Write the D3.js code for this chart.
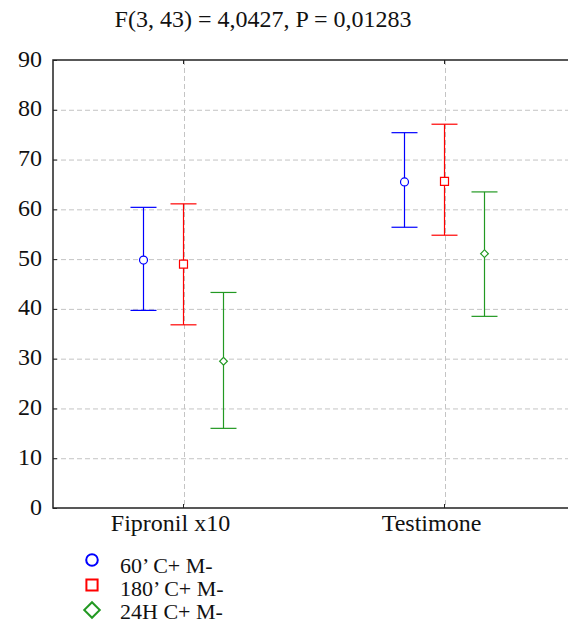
<!DOCTYPE html>
<html><head><meta charset="utf-8">
<script src="https://cdn.jsdelivr.net/npm/d3@7"></script>
<style>
html,body{margin:0;padding:0;background:#fff;}
svg{display:block;font-family:"Liberation Serif","Times New Roman",serif;}
svg text{font-family:"Liberation Serif","Times New Roman",serif !important;}
</style></head>
<body>
<svg id="chart" width="568" height="628"></svg>
<script>
const title = "F(3, 43) = 4,0427, P = 0,01283";
const categories = ["Fipronil x10", "Testimone"];
const seriesNames = ["60’ C+ M-", "180’ C+ M-", "24H C+ M-"];
const seriesColors = ["#0000ff", "#ff0000", "#229922"];
const seriesShapes = ["circle", "square", "diamond"];
const mean60 = [49.8, 65.5];
const lower60 = [39.7, 56.4];
const upper60 = [60.4, 75.4];
const mean180 = [49.0, 65.6];
const lower180 = [36.8, 54.8];
const upper180 = [61.1, 77.1];
const mean24 = [29.5, 51.1];
const lower24 = [16.0, 38.5];
const upper24 = [43.3, 63.5];
const yTicks = [0, 10, 20, 30, 40, 50, 60, 70, 80, 90];

(function () {
const means = [mean60, mean180, mean24];
const lowers = [lower60, lower180, lower24];
const uppers = [upper60, upper180, upper24];

const svg = d3.select("#chart");
const pLeft = 53, pTop = 60, pBottom = 508, pRight = 568;
const serif = "Liberation Serif";

const y = d3.scaleLinear().domain([0, 90]).range([pBottom, pTop]);
const x = d3.scaleBand().domain(categories).range([pLeft, 575]).padding(0);
const xOff = d3.scalePoint().domain(seriesNames).range([-40, 40]);
const cx = c => x(c) + x.bandwidth() / 2;

// grid
const grid = svg.append("g");
grid.selectAll("line.h").data(yTicks.filter(t => t > 0 && t < 90)).join("line")
  .attr("x1", pLeft).attr("x2", pRight)
  .attr("y1", d => y(d) + 0.5).attr("y2", d => y(d) + 0.5)
  .attr("stroke", "#c4c4c4").attr("stroke-dasharray", "5,3").attr("stroke-width", 1);
grid.selectAll("line.v").data(categories).join("line")
  .attr("x1", d => Math.round(cx(d)) + 0.5).attr("x2", d => Math.round(cx(d)) + 0.5)
  .attr("y1", pTop).attr("y2", pBottom)
  .attr("stroke", "#c4c4c4").attr("stroke-dasharray", "5,3").attr("stroke-width", 1);

// axes
const yAxis = d3.axisLeft(y).tickValues(yTicks).tickSize(-4).tickPadding(11);
const gy = svg.append("g").attr("transform", `translate(${pLeft},0)`).call(yAxis)
  .attr("font-family", serif).attr("font-size", 24);
gy.select(".domain").remove();
gy.selectAll(".tick line").attr("stroke", "#222");
gy.selectAll(".tick text").attr("fill", "#111").attr("dy", "0.25em");

const xAxis = d3.axisBottom(x).tickSize(-4).tickPadding(10);
const gx = svg.append("g").attr("transform", `translate(0,${pBottom})`).call(xAxis)
  .attr("font-family", serif).attr("font-size", 24);
gx.select(".domain").remove();
gx.selectAll(".tick line").attr("stroke", "#222");
gx.selectAll(".tick text").attr("fill", "#111").attr("dx", -13).attr("dy", "0.55em");

const xTop = d3.axisTop(x).tickSize(-4).tickFormat("");
const gxt = svg.append("g").attr("transform", `translate(0,${pTop})`).call(xTop);
gxt.select(".domain").remove();
gxt.selectAll(".tick line").attr("stroke", "#222");

// frame
svg.append("path")
  .attr("d", `M${pRight},${pTop}H${pLeft}V${pBottom}H${pRight}`)
  .attr("fill", "none").attr("stroke", "#222").attr("stroke-width", 1.5);

// symbols: diamond drawn as a square rotated 45°
const symType = {circle: d3.symbolCircle, square: d3.symbolSquare, diamond: d3.symbolSquare};
const symRot = {circle: 0, square: 0, diamond: 45};

// error bars
const capW = 13;
const symSize = {circle: 50, square: 64, diamond: 30};
seriesNames.forEach((s, si) => {
  const g = svg.append("g");
  const shape = seriesShapes[si];
  const data = categories.map((c, ci) => ({c, m: means[si][ci], lo: lowers[si][ci], hi: uppers[si][ci]}));
  const px = d => cx(d.c) + xOff(s);
  g.selectAll("line.v").data(data).join("line")
    .attr("x1", px).attr("x2", px).attr("y1", d => y(d.lo)).attr("y2", d => y(d.hi))
    .attr("stroke", seriesColors[si]).attr("stroke-width", 1.2);
  g.selectAll("line.hi").data(data).join("line")
    .attr("x1", d => px(d) - capW).attr("x2", d => px(d) + capW)
    .attr("y1", d => y(d.hi)).attr("y2", d => y(d.hi))
    .attr("stroke", seriesColors[si]).attr("stroke-width", 1.2);
  g.selectAll("line.lo").data(data).join("line")
    .attr("x1", d => px(d) - capW).attr("x2", d => px(d) + capW)
    .attr("y1", d => y(d.lo)).attr("y2", d => y(d.lo))
    .attr("stroke", seriesColors[si]).attr("stroke-width", 1.2);
  g.selectAll("path").data(data).join("path")
    .attr("transform", d => `translate(${px(d)},${y(d.m)}) rotate(${symRot[shape]})`)
    .attr("d", d3.symbol().type(symType[shape]).size(symSize[shape]))
    .attr("fill", "#fff").attr("stroke", seriesColors[si]).attr("stroke-width", 1.2);
});

// title
svg.append("text").attr("x", 263).attr("y", 27).attr("text-anchor", "middle")
  .attr("font-family", serif).attr("font-size", 24).attr("fill", "#111").text(title);

// legend
const leg = svg.append("g");
const legSize = {circle: 105, square: 125, diamond: 120};
seriesNames.forEach((s, i) => {
  const shape = seriesShapes[i];
  const ly = 560 + i * 25;
  leg.append("path").attr("transform", `translate(92,${ly}) rotate(${symRot[shape]})`)
    .attr("d", d3.symbol().type(symType[shape]).size(legSize[shape]))
    .attr("fill", "none").attr("stroke", seriesColors[i]).attr("stroke-width", 2);
  leg.append("text").attr("x", 120).attr("y", 573 + i * 23).attr("font-family", serif)
    .attr("font-size", 22).attr("fill", "#111").text(s);
});
})();
</script>
</body></html>
